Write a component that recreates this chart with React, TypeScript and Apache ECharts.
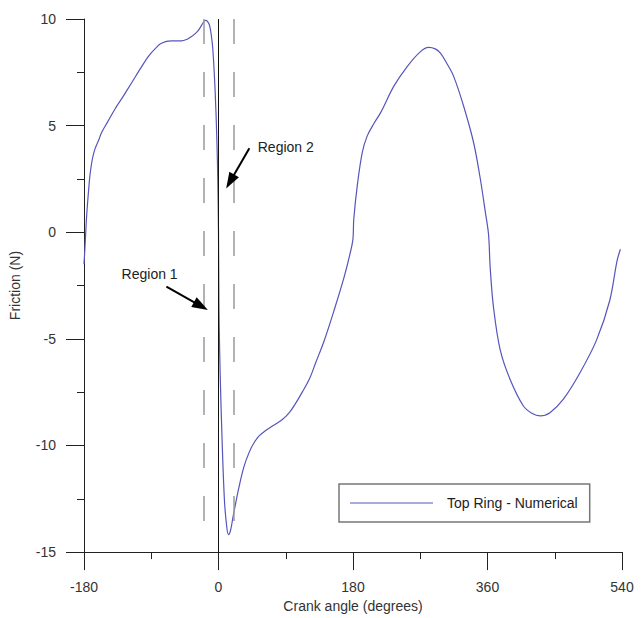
import React, { useEffect, useRef } from "react";
import * as echarts from "echarts";

const crankAngle = [
  -180, -178.7, -176.4, -174, -172, -169, -165.3, -160, -156.4, -148, -138.7, -128, -116.4, -105, -94, -85,
  -76.4, -63, -49.7, -42, -36.4, -30, -25.3, -21, -17.7, -15, -12, -9.5, -7.5, -4.4, -2.1, -1, 0, 0.5, 1,
  2.3, 4.9, 8, 11, 13.3, 16, 19.2, 23, 28, 34, 41.3, 48, 54.7, 63, 72.5, 85.9, 95, 103.6, 112, 121.3, 130.3,
  141.3, 154.7, 168, 176.9, 180, 181, 185.8, 192.5, 199.2, 208, 217, 234.7, 252.5, 270.3, 281.3, 290, 297,
  305, 314.7, 328, 341.3, 350.3, 357, 361.4, 363.6, 368, 377, 390.3, 408, 420, 430.3, 443.6, 461.3, 483.6,
  505.9, 523.6, 533.3, 537.9,
];
const friction = [
  -1.5, -0.7, 0.8, 1.9, 2.67, 3.4, 3.91, 4.35, 4.68, 5.2, 5.77, 6.35, 7.0, 7.65, 8.24, 8.6,
  8.86, 8.97, 8.97, 9.05, 9.17, 9.35, 9.55, 9.8, 9.94, 9.9, 9.7, 9.2, 8.55, 6.54, 4.22, 2.5, 0, -3.0, -4.5,
  -6.76, -9.85, -12.6, -13.8, -14.18, -14.0, -13.4, -12.7, -11.86, -11.0, -10.3, -9.85, -9.54, -9.3, -9.08, -8.77, -8.45, -8.0, -7.5, -6.91, -6.1,
  -5.1, -3.66, -2.12, -0.88, -0.3, 0.6, 2.21, 3.76, 4.53, 5.1, 5.61, 6.85, 7.77, 8.47, 8.67, 8.6, 8.4,
  7.95, 7.31, 5.92, 4.22, 2.52, 0.97, -0.11, -1.66, -3.51, -5.52, -6.91, -8.15, -8.5, -8.61, -8.46, -7.84, -6.6,
  -5.06, -3.2, -1.35, -0.8,
];

const seriesName = "Top Ring - Numerical";
const xTickLabels = [-180, 0, 180, 360, 540];
const yTickLabels = [-15, -10, -5, 0, 5, 10];
const dashedAngles = [-20, 20];
const dashedTop = 10;
const dashedBottom = -13.7;

const regionTexts = ["Region 1", "Region 2"];
const regionTextAt = [
  [-129.7, -1.97],
  [52.5, 3.99],
];
const arrowTail = [
  [-69.7, -2.55],
  [41.3, 3.94],
];
const arrowHead = [
  [-23.5, -3.46],
  [15.6, 2.38],
];

const FONT = "'Liberation Sans', Arial, sans-serif";
const FS = 14;

export default function App() {
  const ref = useRef<HTMLDivElement>(null);
  useEffect(() => {
    if (!ref.current) return;
    const chart = echarts.init(ref.current, undefined, { renderer: "svg" });
    const data = crankAngle.map((a, i) => [a, friction[i]]);
    const xMin = xTickLabels[0];
    const xMax = xTickLabels[xTickLabels.length - 1];
    const xInt = xTickLabels[1] - xTickLabels[0];
    const yMin = yTickLabels[0];
    const yMax = yTickLabels[yTickLabels.length - 1];
    const yInt = yTickLabels[1] - yTickLabels[0];

    const axisCommon = {
      axisLine: { onZero: false, lineStyle: { color: "#222", width: 1 } },
      axisTick: { show: true, length: 18, lineStyle: { color: "#222", width: 1 } },
      minorTick: { show: true, splitNumber: 2, length: 7, lineStyle: { color: "#222", width: 1 } },
      splitLine: { show: false },
      axisLabel: { color: "#333", fontSize: FS, fontFamily: FONT, margin: 28 },
      nameTextStyle: { color: "#333", fontSize: FS, fontFamily: FONT },
    };

    const markLineData: any[] = [];
    markLineData.push([
      { coord: [0, yMax], symbol: "none", lineStyle: { color: "#111", width: 1, type: "solid" } },
      { coord: [0, yMin], symbol: "none" },
    ]);
    dashedAngles.forEach((a) => {
      markLineData.push([
        { coord: [a, dashedTop], symbol: "none", lineStyle: { color: "#9a9a9a", width: 1.5, type: [25, 28] } },
        { coord: [a, dashedBottom], symbol: "none" },
      ]);
    });
    arrowTail.forEach((t, i) => {
      markLineData.push([
        { coord: t, symbol: "none", lineStyle: { color: "#000", width: 2, type: "solid" } },
        { coord: arrowHead[i], symbol: "triangle", symbolSize: [11, 16], itemStyle: { color: "#000" } },
      ]);
    });

    chart.setOption({
      animation: false,
      textStyle: { fontFamily: FONT },
      grid: { left: 83, top: 19, width: 539, height: 539, containLabel: false },
      xAxis: {
        type: "value",
        min: xMin,
        max: xMax,
        interval: xInt,
        name: "Crank angle (degrees)",
        nameLocation: "middle",
        nameGap: 42,
        ...axisCommon,
      },
      yAxis: {
        type: "value",
        min: yMin,
        max: yMax,
        interval: yInt,
        name: "Friction (N)",
        nameLocation: "middle",
        nameGap: 62,
        ...axisCommon,
      },
      legend: {
        left: 339,
        top: 484,
        orient: "horizontal",
        data: [seriesName],
        icon: "rect",
        itemWidth: 83,
        itemHeight: 1,
        padding: [12, 12, 12, 11],
        borderColor: "#777",
        borderWidth: 1.5,
        borderRadius: 0,
        backgroundColor: "#fff",
        textStyle: { color: "#222", fontSize: FS, fontFamily: FONT, padding: [0, 0, 0, 9] },
      },
      series: [
        {
          name: seriesName,
          type: "line",
          data,
          showSymbol: false,
          symbol: "none",
          smooth: 0.35,
          lineStyle: { color: "#5555bb", width: 1.2 },
          itemStyle: { color: "#5555bb" },
          z: 3,
          markLine: {
            silent: true,
            animation: false,
            label: { show: false },
            symbol: ["none", "none"],
            data: markLineData,
          },
          markPoint: {
            silent: true,
            animation: false,
            data: regionTexts.map((t, i) => ({
              coord: regionTextAt[i],
              symbol: "circle",
              symbolSize: 0,
              label: {
                show: true,
                formatter: t,
                position: "right",
                distance: 0,
                color: "#222",
                fontSize: FS,
                fontFamily: FONT,
              },
            })),
          },
        },
      ],
    });
    return () => chart.dispose();
  }, []);
  return (
    <div
      ref={ref}
      style={{ position: "fixed", left: 0, top: 0, width: 643, height: 618, background: "#fff" }}
    />
  );
}
